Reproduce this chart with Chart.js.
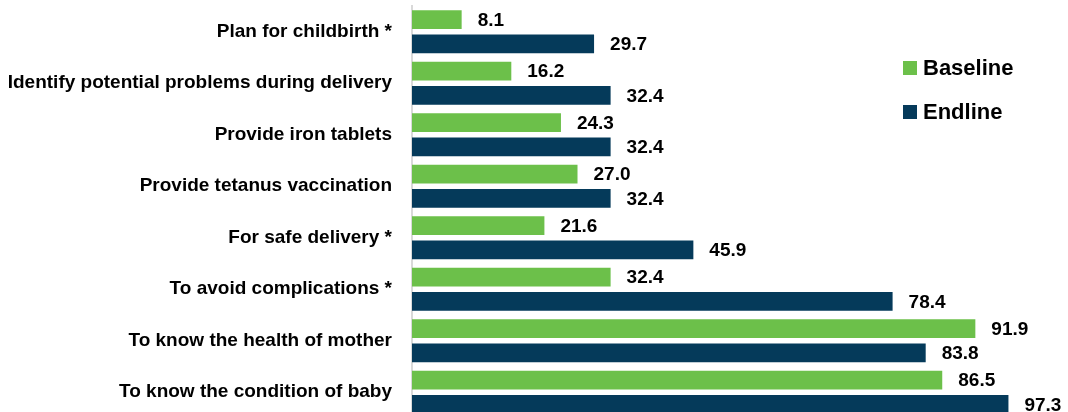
<!DOCTYPE html>
<html>
<head>
<meta charset="utf-8">
<script src="https://cdn.jsdelivr.net/npm/chart.js@4"></script>
<style>
  html, body { margin: 0; padding: 0; background: #fff; overflow: hidden; }
  #wrap { width: 1068px; height: 418px; }
</style>
</head>
<body>
<div id="wrap"><canvas id="myBarChart"></canvas></div>
<script>
	// categories and values
	var categories = [
		"Plan for childbirth *",
		"Identify potential problems during delivery",
		"Provide iron tablets",
		"Provide tetanus vaccination",
		"For safe delivery *",
		"To avoid complications *",
		"To know the health of mother",
		"To know the condition of baby"
	];
	var baseline = [8.1, 16.2, 24.3, 27.0, 21.6, 32.4, 91.9, 86.5];
	var endline = [29.7, 32.4, 32.4, 32.4, 45.9, 78.4, 83.8, 97.3];
	var seriesNames = ["Baseline", "Endline"];
	var seriesColors = ["#6CC04A", "#053A5A"];

	var fontName = "'Liberation Sans', Arial, sans-serif";

	// value labels at the end of every bar
	var valueLabels = {
		id: "valueLabels",
		afterDatasetsDraw: function(chart){
			var ctx = chart.ctx;
			ctx.save();
			ctx.font = "bold 19px " + fontName;
			ctx.fillStyle = "#000";
			ctx.textBaseline = "middle";
			ctx.textAlign = "left";
			chart.data.datasets.forEach(function(ds, i){
				var meta = chart.getDatasetMeta(i);
				meta.data.forEach(function(bar, j){
					ctx.fillText(ds.data[j].toFixed(1), bar.x + 16, bar.y + 1);
				});
			});
			ctx.restore();
		}
	};

	// legend drawn at the right side of the plot
	var sideLegend = {
		id: "sideLegend",
		afterDraw: function(chart){
			var ctx = chart.ctx;
			ctx.save();
			ctx.font = "bold 22px " + fontName;
			ctx.textBaseline = "middle";
			ctx.textAlign = "left";
			chart.data.datasets.forEach(function(ds, i){
				var y = 68 + i * 44;
				ctx.fillStyle = ds.backgroundColor;
				ctx.fillRect(903, y - 7, 14, 14);
				ctx.fillStyle = "#000";
				ctx.fillText(ds.label, 923, y + 1);
			});
			ctx.restore();
		}
	};

	var chart = new Chart(document.getElementById("myBarChart"), {
		type: "bar",
		data: {
			labels: categories,
			datasets: [{
				label: seriesNames[0],
				data: baseline,
				backgroundColor: seriesColors[0],
				categoryPercentage: 0.94,
				barPercentage: 0.78
			}, {
				label: seriesNames[1],
				data: endline,
				backgroundColor: seriesColors[1],
				categoryPercentage: 0.94,
				barPercentage: 0.78
			}]
		},
		options: {
			indexAxis: "y",
			responsive: true,
			maintainAspectRatio: false,
			animation: false,
			layout: { padding: { top: 6, right: 43, bottom: 0, left: 0 } },
			plugins: {
				legend: { display: false },
				tooltip: { enabled: false }
			},
			scales: {
				x: {
					display: false,
					min: 0,
					max: 100
				},
				y: {
					afterFit: function(scale){
						scale.width = 412;
						scale.paddingTop = 0;
						scale.paddingBottom = 0;
					},
					grid: { display: false, drawTicks: false },
					border: { display: true, color: "#d9d9d9", width: 2 },
					ticks: {
						padding: 20,
						color: "#000",
						font: { family: fontName, size: 19, weight: "bold" }
					}
				}
			}
		},
		plugins: [valueLabels, sideLegend]
	});
</script>
</body>
</html>
